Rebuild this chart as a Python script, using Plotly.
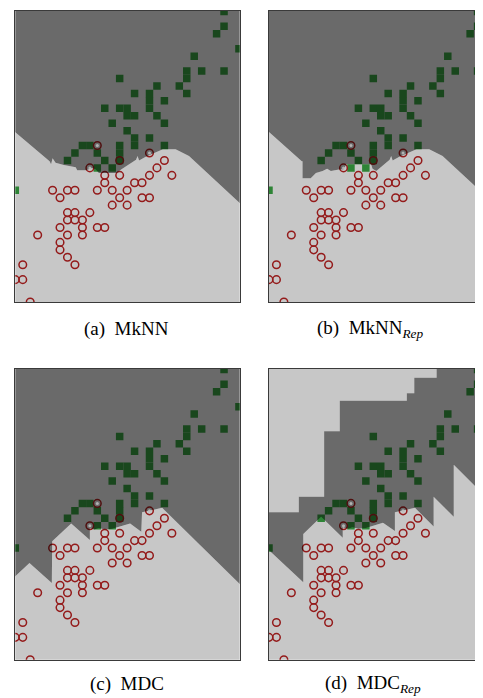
import plotly.graph_objects as go

# ---------------- data (grid units) ----------------
green_x = [28, 28, 27, 30, 24, 23, 23, 25, 28, 14, 19, 22, 23, 16, 18, 18, 18, 20, 19, 20, 12, 14,
           15, 15, 16, 13, 15, 16, 16, 18, 20, 14, 14, 14, 9, 10, 8, 11, 7, 12, 11, 13, 0]
green_y = [39, 37, 36, 34, 33, 31, 30, 31, 31, 30, 29, 29, 28, 28, 28, 27, 26, 27, 25, 24, 26, 26,
           26, 25, 25, 24, 23, 22, 21, 22, 21, 21, 20, 19, 21, 21, 20, 20, 19, 19, 18, 18, 15]

red_x = [12, 14, 12, 20, 19, 18, 21, 16, 17, 5, 7, 8, 6, 11, 13, 15, 14, 13, 15, 17, 18, 7, 8, 10,
         7, 8, 9, 6, 9, 11, 12, 7, 9, 3, 6, 6, 7, 8, 1, 0, 1, 2, 11, 10, 18, 14]
red_y = [17, 17, 16, 19, 18, 17, 17, 16, 16, 15, 15, 15, 14, 15, 15, 15, 14, 13, 13, 14, 14, 12, 12, 12,
         11, 11, 11, 10, 10, 10, 10, 9, 9, 9, 8, 7, 6, 5, 5, 3, 3, 0, 21, 18, 20, 19]

marked_x = [11, 10, 18]
marked_y = [21, 18, 20]

# decision boundaries (light region below the line)
a_bx = [-1, 0, 4.6, 4.8, 5.0, 5.4, 6.5, 7.3, 8.1, 8.3, 9.5, 10.3, 10.8, 11.2, 13.6, 14.2, 16.2, 16.4,
        16.6, 17.5, 19.2, 19.8, 21.5, 23.3, 30.1, 31.0]
a_by = [23.7, 22.8, 18.9, 18.5, 19.3, 18.7, 18.4, 18.2, 18.1, 17.7, 17.7, 18.0, 17.8, 17.3, 17.3, 17.8,
        19.1, 19.6, 19.0, 19.5, 20.2, 20.5, 20.5, 19.6, 13.3, 12.4]

b_bx = [-1, 0, 4.4, 4.5, 4.5, 5.6, 6.3, 7.2, 7.8, 8.3, 9.4, 10.0, 10.4, 13.7, 13.9, 14.4, 16.2, 16.4,
        16.6, 17.5, 19.2, 19.8, 21.5, 23.3, 30.1, 31.0]
b_by = [23.7, 22.8, 18.9, 18.9, 16.6, 16.6, 17.3, 17.6, 17.9, 17.6, 17.8, 17.8, 18.5, 18.5, 17.9, 17.6,
        19.1, 19.6, 19.0, 19.5, 20.2, 20.5, 20.5, 19.6, 13.3, 12.4]

c_bx = [-1, 0, 1.9, 4.9, 4.95, 7.5, 10.0, 10.0, 10.6, 11.2, 12.0, 13.0, 15.4, 16.9, 17.0, 19.7, 30.1, 31.0]
c_by = [10.3, 11.2, 13.0, 10.3, 15.9, 18.3, 16.1, 17.7, 17.5, 17.7, 17.5, 17.6, 18.3, 17.2, 19.8, 20.4,
        10.2, 9.3]

d_lx = [-1, 0, 4.6, 4.6, 7.0, 9.9, 9.9, 10.6, 11.2, 12.0, 13.0, 15.3, 16.9, 16.9, 19.6, 22.1, 22.1,
        24.8, 24.8, 28.7, 28.7, 31.0]
d_ly = [15.6, 14.7, 10.4, 16.9, 19.2, 16.4, 17.8, 17.6, 17.8, 17.6, 17.7, 18.4, 17.3, 19.8, 20.4, 17.9,
        21.9, 19.2, 26.2, 22.3, 28.2, 25.9]

d_ux = [-1, 4.0, 4.0, 7.4, 7.4, 9.5, 9.5, 18.5, 18.5, 19.5, 19.5, 22.5, 22.5]
d_uy = [19.8, 19.8, 21.9, 21.9, 30.7, 30.7, 34.8, 34.8, 35.8, 35.8, 37.9, 37.9, 40.0]

captions = ["(a)\u00a0 MkNN", "(b)\u00a0 MkNN<sub><i>Rep</i></sub>",
            "(c)\u00a0 MDC", "(d)\u00a0 MDC<sub><i>Rep</i></sub>"]

# ---------------- style ----------------
W, H = 483, 698
DARK = "rgba(0,0,0,0.585)"
LIGHT = "rgba(0,0,0,0.22)"
GREEN = "rgb(60,170,70)"
RED = "rgb(190,35,35)"
LO, HI_X, HI_Y, LOW_Y = -1, 31, 40, -1

fig = go.Figure()

panels = [
    ("", (7.3, 231.7), (2.7, 294.0), 30.1,
     [(a_bx + [HI_X, LO], a_by + [HI_Y, HI_Y], DARK), (a_bx + [HI_X, LO], a_by + [LOW_Y, LOW_Y], LIGHT)]),
    ("2", (261.0, 483.0), (2.7, 294.0), 29.8,
     [(b_bx + [HI_X, LO], b_by + [HI_Y, HI_Y], DARK), (b_bx + [HI_X, LO], b_by + [LOW_Y, LOW_Y], LIGHT)]),
    ("3", (7.3, 231.7), (360.7, 651.7), 30.1,
     [(c_bx + [HI_X, LO], c_by + [HI_Y, HI_Y], DARK), (c_bx + [HI_X, LO], c_by + [LOW_Y, LOW_Y], LIGHT)]),
    ("4", (261.0, 483.0), (360.7, 651.7), 29.8,
     [(d_ux + [LO], d_uy + [HI_Y], LIGHT),
      (d_ux + [HI_X] + d_lx[::-1], d_uy + [HI_Y] + d_ly[::-1], DARK),
      (d_lx + [HI_X, LO], d_ly + [LOW_Y, LOW_Y], LIGHT)]),
]

for i, (suf, xd, yd, xmax, polys) in enumerate(panels):
    xa, ya = "x" + suf, "y" + suf
    fig.add_trace(go.Scatter(x=green_x, y=green_y, xaxis=xa, yaxis=ya, mode="markers",
                             marker=dict(symbol="square", size=7.5, color=GREEN, line=dict(width=0)),
                             hoverinfo="skip", showlegend=False))
    fig.add_trace(go.Scatter(x=red_x, y=red_y, xaxis=xa, yaxis=ya, mode="markers",
                             marker=dict(symbol="circle-open", size=7.6, color=RED,
                                         line=dict(width=1.5, color=RED)),
                             hoverinfo="skip", showlegend=False))
    for px_, py_, col in polys:
        fig.add_trace(go.Scatter(x=px_, y=py_, xaxis=xa, yaxis=ya, mode="lines", fill="toself",
                                 fillcolor=col, line=dict(width=0), hoverinfo="skip", showlegend=False))
    fig.add_trace(go.Scatter(x=marked_x, y=marked_y, xaxis=xa, yaxis=ya, mode="markers",
                             marker=dict(symbol="circle", size=3, color="rgba(190,190,190,0.85)"),
                             hoverinfo="skip", showlegend=False))
    right_cut = xd[1] >= W
    common = dict(showgrid=False, zeroline=False, showticklabels=False, ticks="",
                  showline=True, linecolor="#3a3a3a", linewidth=1)
    fig.layout["xaxis" + suf] = dict(domain=[xd[0] / W, xd[1] / W], range=[0, xmax],
                                     anchor=ya, mirror=True, **common)
    fig.layout["yaxis" + suf] = dict(domain=[1 - yd[1] / H, 1 - yd[0] / H], range=[0, 39.1],
                                     anchor=xa, mirror=not right_cut, **common)

cap_pos = [(74, 321), (307, 321), (80, 676), (315, 676)]
for text, (cx, cy) in zip(captions, cap_pos):
    fig.add_annotation(text=text, xref="paper", yref="paper", x=cx / W, y=1 - cy / H,
                       xanchor="left", yanchor="middle", showarrow=False,
                       font=dict(family="Liberation Serif", size=19, color="black"))

fig.update_layout(width=W, height=H, margin=dict(l=0, r=0, t=0, b=0),
                  paper_bgcolor="white", plot_bgcolor="white", showlegend=False)

fig.write_html("out.html")
